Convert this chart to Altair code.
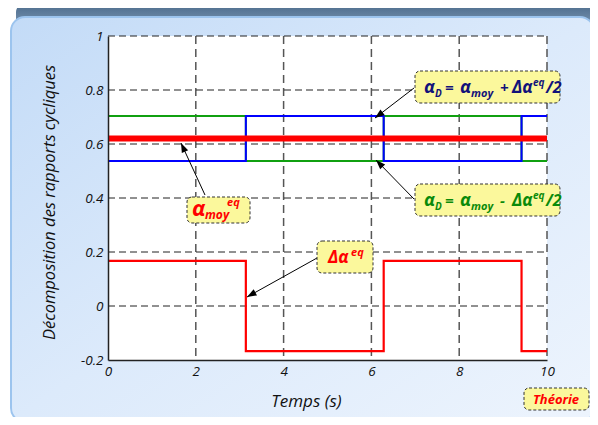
import math
import altair as alt
import pandas as pd

# ---------------- data ----------------
t = [0, 3.14, 6.28, 9.42, 10]
delta_alpha_eq = [0.167, -0.167, 0.167, -0.167, -0.167]     # red thin
alpha_D_blue = [0.537, 0.704, 0.537, 0.704, 0.704]         # blue
alpha_D_green = [0.704, 0.537, 0.704, 0.537, 0.537]        # green
t_moy = [0, 10]
alpha_moy = [0.62, 0.62]                                   # red thick

x_ticks = [0, 2, 4, 6, 8, 10]
y_ticks = [-0.2, 0, 0.2, 0.4, 0.6, 0.8, 1]
x_grid = [2, 4, 6, 8, 10]
y_grid = [0, 0.2, 0.4, 0.6, 0.8, 1]

# ---------------- layout helpers ----------------
W, H = 439, 324
X0, X1, Y0, Y1 = 0, 10, -0.2, 1
OX, OY = 108, 36  # plot origin in the page


def px2x(p):
    return X0 + (p - OX) / W * (X1 - X0)


def px2y(p):
    return Y1 - (p - OY) / H * (Y1 - Y0)


FONT = "Open Sans"
RED = "#ff0000"
NAVY = "#12127a"
GREEN = "#0a8a0a"

xs = alt.Scale(domain=[X0, X1], nice=False, zero=False)
ys = alt.Scale(domain=[Y0, Y1], nice=False, zero=False)

X = alt.X(
    "x:Q", scale=xs,
    axis=alt.Axis(values=x_ticks, title="Temps (s)", grid=False, ticks=False,
                  labelFlush=False, labelFont=FONT, labelFontSize=13.5,
                  labelFontStyle="italic", labelColor="#111", labelPadding=4,
                  domainColor="#222", domainWidth=1.5, titleFont=FONT,
                  titleFontSize=17, titleFontStyle="italic", titleFontWeight="normal",
                  titleColor="#111", titleX=198, titleY=46, titleBaseline="alphabetic",
                  zindex=1))
Y = alt.Y(
    "y:Q", scale=ys,
    axis=alt.Axis(values=y_ticks, title="Décomposition des rapports cycliques",
                  grid=False, ticks=False, labelFlush=False, labelFont=FONT,
                  labelFontSize=13.5, labelFontStyle="italic", labelColor="#111",
                  labelPadding=5, labelExpr="'' + datum.value",
                  domainColor="#222", domainWidth=1.5, titleFont=FONT,
                  titleFontSize=16.5, titleFontStyle="italic", titleFontWeight="normal",
                  titleColor="#111", titleX=-59, titleY=166, titleBaseline="middle",
                  titleAlign="center", zindex=1))

dummy = pd.DataFrame({"d": [0]})

# ---------------- decoration: panel ----------------
topbar = alt.Chart(dummy).mark_rect(
    fill=alt.Gradient(gradient="linear",
                      stops=[alt.GradientStop(color="#4d6c8c", offset=0),
                             alt.GradientStop(color="#7f9bb8", offset=1)],
                      x1=0, y1=0, x2=0, y2=1),
    cornerRadius=8).encode(
    x=alt.value(16 - OX), x2=alt.value(596 - OX),
    y=alt.value(4 - OY), y2=alt.value(30 - OY))

panel = alt.Chart(dummy).mark_rect(
    fill=alt.Gradient(gradient="linear",
                      stops=[alt.GradientStop(color="#c3dbf7", offset=0),
                             alt.GradientStop(color="#dceafb", offset=0.5),
                             alt.GradientStop(color="#edf4fd", offset=1)],
                      x1=0, y1=0, x2=1, y2=1),
    cornerRadius=14, stroke="#9cc4ee", strokeWidth=2).encode(
    x=alt.value(11 - OX), x2=alt.value(594 - OX),
    y=alt.value(17 - OY), y2=alt.value(422 - OY))

plotbg = alt.Chart(dummy).mark_rect(fill="white").encode(
    x=alt.value(0), x2=alt.value(W), y=alt.value(0), y2=alt.value(H))

# ---------------- grid ----------------
vgrid = alt.Chart(pd.DataFrame({"x": x_grid})).mark_rule(
    color="#555", strokeWidth=1.5, strokeDash=[8, 5]).encode(
    x=X, y=alt.value(0), y2=alt.value(H))
hgrid = alt.Chart(pd.DataFrame({"y": y_grid})).mark_rule(
    color="#222", strokeWidth=1, strokeDash=[7, 4]).encode(
    y=Y, x=alt.value(0), x2=alt.value(W))

# ---------------- data lines ----------------
df_green = pd.DataFrame({"x": t, "y": alpha_D_green})
df_blue = pd.DataFrame({"x": t, "y": alpha_D_blue})
df_delta = pd.DataFrame({"x": t, "y": delta_alpha_eq})
df_moy = pd.DataFrame({"x": t_moy, "y": alpha_moy})

green = alt.Chart(df_green).mark_line(interpolate="step-after", color="#10a010",
                                      strokeWidth=2).encode(x=X, y=Y)
blue = alt.Chart(df_blue).mark_line(interpolate="step-after", color="#0000ff",
                                    strokeWidth=2).encode(x=X, y=Y)
delta = alt.Chart(df_delta).mark_line(interpolate="step-after", color=RED,
                                      strokeWidth=2.2).encode(x=X, y=Y)
moy = alt.Chart(df_moy).mark_line(color=RED, strokeWidth=6).encode(x=X, y=Y)

# ---------------- annotations ----------------
arrows_px = [((205, 195), (181, 143)),
             ((414, 88), (375, 118)),
             ((414, 199), (376, 160)),
             ((317, 258), (247, 297))]
arr, heads = [], []
for (sx, sy), (tx, ty) in arrows_px:
    ang = math.degrees(math.atan2(tx - sx, -(ty - sy))) % 360
    arr.append({"x": px2x(sx), "y": px2y(sy), "x2": px2x(tx), "y2": px2y(ty)})
    heads.append({"x": px2x(tx), "y": px2y(ty), "ang": ang})
df_arr = pd.DataFrame(arr)
df_heads = pd.DataFrame(heads)

arrow_lines = alt.Chart(df_arr).mark_rule(color="black", strokeWidth=1).encode(
    x=X, y=Y, x2="x2:Q", y2="y2:Q")
arrow_heads = alt.Chart(df_heads).mark_point(
    shape="M0,0L-0.4,1.1L0.4,1.1Z", filled=True, color="black", opacity=1,
    size=300, strokeWidth=0).encode(
    x=X, y=Y, angle=alt.Angle("ang:Q", scale=None))

boxes_px = [(187, 197, 250, 223), (317, 241, 373, 273), (415, 71, 560, 103),
            (415, 184, 560, 216), (524, 388, 589, 410)]
df_box = pd.DataFrame([{"x": px2x(a), "y": px2y(b), "x2": px2x(c), "y2": px2y(d)}
                       for a, b, c, d in boxes_px])
boxes = alt.Chart(df_box).mark_rect(
    fill="#fbf89c", stroke="#333", strokeWidth=1, strokeDash=[3, 2],
    cornerRadius=5).encode(x=X, y=Y, x2="x2:Q", y2="y2:Q")

pieces = [
    (192, 216, "α", 22, RED), (205, 219, "moy", 12, RED), (227, 206, "eq", 11, RED),
    (328, 263, "Δα", 17, RED), (351, 256, "eq", 11, RED),
]
for dy, sign, col in [(0, "+", NAVY), (113, "-", GREEN)]:
    pieces += [
        (424, 93 + dy, "α", 18, col), (435, 97 + dy, "D", 10, col),
        (445, 93 + dy, "=", 15, col), (460, 93 + dy, "α", 18, col),
        (471, 97 + dy, "moy", 11, col), (500, 93 + dy, sign, 15, col),
        (512, 93 + dy, "Δα", 17, col), (533, 86 + dy, "eq", 10, col),
        (546, 93 + dy, "/2", 16, col),
    ]
df_txt = pd.DataFrame([{"x": px2x(a), "y": px2y(b), "txt": s, "fs": f, "col": c}
                       for a, b, s, f, c in pieces])
texts = alt.Chart(df_txt).mark_text(
    font=FONT, fontStyle="italic", fontWeight="bold", align="left",
    baseline="alphabetic").encode(
    x=X, y=Y, text="txt:N", size=alt.Size("fs:Q", scale=None),
    color=alt.Color("col:N", scale=None))

df_theo = pd.DataFrame({"x": [px2x(556)], "y": [px2y(404)], "txt": ["Théorie"]})
theorie = alt.Chart(df_theo).mark_text(
    font=FONT, fontStyle="italic", fontWeight="bold", fontSize=13, color=RED,
    align="center", baseline="alphabetic").encode(x=X, y=Y, text="txt:N")

chart = alt.layer(
    topbar, panel, plotbg, vgrid, hgrid, green, blue, delta, moy,
    arrow_lines, arrow_heads, boxes, texts, theorie
).properties(
    width=W, height=H,
    padding={"left": 100, "top": 28, "right": 43, "bottom": 57},
    autosize=alt.AutoSizeParams(type="none"),
    background="white",
).configure_view(stroke="transparent")

chart.save("out.html", embed_options={"renderer": "svg", "actions": False})
